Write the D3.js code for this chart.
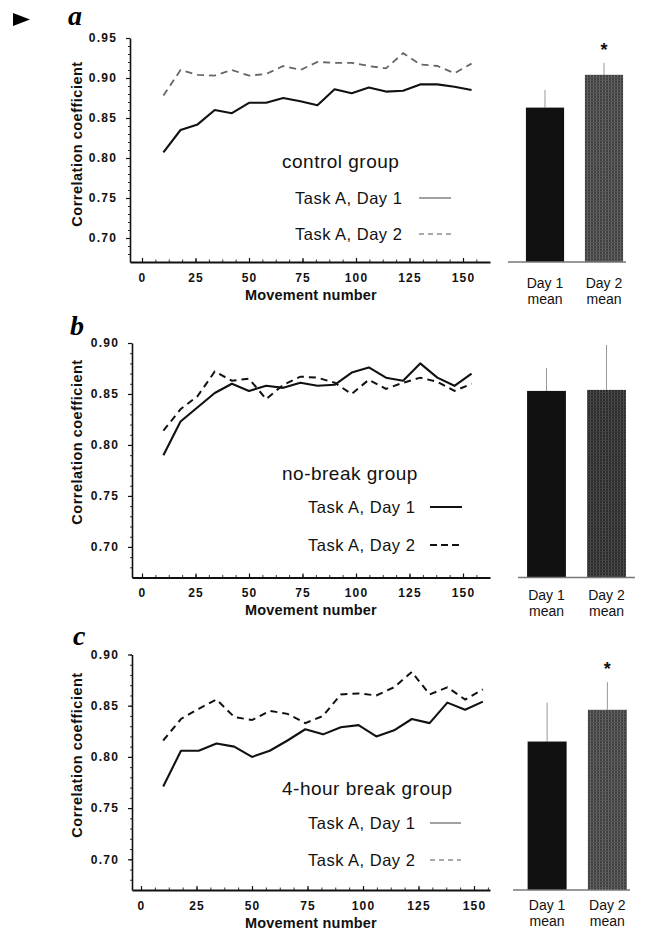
<!DOCTYPE html>
<html><head><meta charset="utf-8">
<script src="https://cdn.jsdelivr.net/npm/d3@7"></script>
<style>body{margin:0;background:#fff}svg{display:block}</style>
</head><body>
<svg id="chart" width="649" height="930"></svg>
<script>
// ---------- data ----------
const movements = [10,18,26,34,42,50,58,66,74,82,90,98,106,114,122,130,138,146,154];
const xTicks = [0,25,50,75,100,125,150];
const yTicksA = [0.70,0.75,0.80,0.85,0.90,0.95];
const yTicksBC = [0.70,0.75,0.80,0.85,0.90];

const day1A = [0.807,0.835,0.842,0.860,0.856,0.869,0.869,0.875,0.871,0.866,0.886,0.881,0.888,0.883,0.884,0.892,0.892,0.889,0.885];
const day2A = [0.878,0.910,0.904,0.903,0.910,0.903,0.905,0.915,0.910,0.920,0.919,0.919,0.915,0.912,0.931,0.917,0.915,0.906,0.918];
const day1B = [0.790,0.823,0.837,0.851,0.860,0.853,0.858,0.856,0.861,0.858,0.859,0.871,0.876,0.866,0.863,0.880,0.866,0.858,0.870];
const day2B = [0.814,0.835,0.848,0.872,0.863,0.865,0.845,0.859,0.867,0.866,0.861,0.850,0.864,0.855,0.861,0.866,0.862,0.853,0.860];
const day1C = [0.771,0.806,0.806,0.813,0.810,0.800,0.806,0.816,0.827,0.822,0.829,0.831,0.820,0.826,0.837,0.833,0.853,0.846,0.854];
const day2C = [0.816,0.837,0.847,0.856,0.839,0.836,0.845,0.842,0.833,0.840,0.861,0.862,0.860,0.868,0.883,0.861,0.868,0.856,0.866];

const barLabels = ["Day 1","Day 2"];
const meansA = [0.863,0.904], errA = [0.022,0.015], starsA = ["","*"];
const meansB = [0.853,0.854], errB = [0.0225,0.044], starsB = ["",""];
const meansC = [0.815,0.846], errC = [0.038,0.027], starsC = ["","*"];

const groups = ["control group","no-break group","4-hour break group"];
const legendLabels = ["Task A, Day 1","Task A, Day 2"];

// ---------- layout ----------
const svg = d3.select("#chart");
const SANS = "'Liberation Sans', Arial, Helvetica, sans-serif";
const SERIF = "'Liberation Serif', 'Times New Roman', serif";
const INK = "#111";

// patterns for Day 2 bars
const defs = svg.append("defs");
function grain(id, base, v, h) {
  const pat = defs.append("pattern").attr("id",id).attr("patternUnits","userSpaceOnUse")
    .attr("width",3).attr("height",3);
  pat.append("rect").attr("width",3).attr("height",3).attr("fill",base);
  pat.append("rect").attr("x",2).attr("width",1).attr("height",3).attr("fill",v);
  pat.append("rect").attr("y",2).attr("width",3).attr("height",1).attr("fill",h);
}
grain("grainLight","#404040","#6a6a6a","#555");
grain("grainDark","#2c2c2c","#505050","#3e3e3e");

// arrow marker
svg.append("path").attr("d","M13,13L13,26L30,19.5Z").attr("fill","#000");

const panels = [
  {letter:"a", lx:68, ly:25, left:130, axisY:262, top:38, yMax:0.95, yTicks:yTicksA,
   x0:142, x150:463, axisEnd:490, d1:day1A, d2:day2A, means:meansA, errs:errA, stars:starsA,
   group:groups[0], gx:282, gy:168, tx:295, t1:204, t2:240, lg1:419, lg2:451, thinLegend:true,
   d2color:"#666", d2width:1.8, ylabY:144, base1:508, base2:626, band:[516,633], bl1:288, bl2:304, mvY:300, grain:"grainLight"},
  {letter:"b", lx:70, ly:335, left:132, axisY:577.5, top:343, yMax:0.90, yTicks:yTicksBC,
   x0:142, x150:463, axisEnd:490, d1:day1B, d2:day2B, means:meansB, errs:errB, stars:starsB,
   group:groups[1], gx:282, gy:480, tx:308, t1:513, t2:551, lg1:430, lg2:462, thinLegend:false,
   d2color:"#111", d2width:2, ylabY:442, base1:518, base2:635, band:[517,636], bl1:600, bl2:616, mvY:615, grain:"grainDark"},
  {letter:"c", lx:73, ly:645, left:132, axisY:890, top:654.5, yMax:0.90, yTicks:yTicksBC,
   x0:141, x150:474, axisEnd:490, d1:day1C, d2:day2C, means:meansC, errs:errC, stars:starsC,
   group:groups[2], gx:282, gy:795, tx:308, t1:829, t2:866, lg1:430, lg2:461, thinLegend:true,
   d2color:"#111", d2width:2, ylabY:755, base1:513, base2:630, band:[517.5,637], bl1:910, bl2:926, mvY:928, grain:"grainLight"}
];

panels.forEach(p => {
  const g = svg.append("g");
  const xs = d3.scaleLinear().domain([0,150]).range([p.x0,p.x150]);
  const x = d3.scaleLinear().domain([xs.invert(p.left), xs.invert(p.axisEnd)]).range([p.left,p.axisEnd]);
  const y = d3.scaleLinear().domain([0.67,p.yMax]).range([p.axisY,p.top]);

  g.append("text").attr("x",p.lx).attr("y",p.ly).text(p.letter)
    .attr("font-family",SERIF).attr("font-style","italic").attr("font-weight","bold")
    .attr("font-size",28).attr("fill","#000");

  g.append("g").attr("transform",`translate(${p.left},0)`)
    .call(d3.axisLeft(y).tickValues(d3.range(0.68,p.yMax+0.0001,0.01)).tickSize(2).tickSizeOuter(0).tickFormat(""))
    .call(s=>s.select(".domain").remove())
    .call(s=>s.selectAll("line").attr("stroke","#333"));
  g.append("g").attr("transform",`translate(${p.left},0)`)
    .call(d3.axisLeft(y).tickValues(p.yTicks).tickSize(4).tickSizeOuter(0).tickPadding(9).tickFormat(d3.format(".2f")))
    .call(s=>{
      s.select(".domain").attr("stroke","#111").attr("stroke-width",1.6);
      s.selectAll(".tick line").attr("stroke","#111").attr("stroke-width",1.2);
      s.selectAll("text").attr("font-family",SANS).attr("font-weight","bold").attr("font-size",12)
        .attr("letter-spacing",1.2).attr("fill",INK);
    });
  g.append("g").attr("transform",`translate(0,${p.axisY})`)
    .call(d3.axisBottom(x).tickValues(d3.range(6.25,160,6.25)).tickSize(-2.5).tickSizeOuter(0).tickFormat(""))
    .call(s=>s.select(".domain").remove())
    .call(s=>s.selectAll("line").attr("stroke","#333"));
  g.append("g").attr("transform",`translate(0,${p.axisY})`)
    .call(d3.axisBottom(x).tickValues(xTicks).tickSize(-4).tickSizeOuter(0).tickPadding(11))
    .call(s=>{
      s.select(".domain").attr("stroke","#111").attr("stroke-width",1.8);
      s.selectAll(".tick line").attr("stroke","#111").attr("stroke-width",1.2);
      s.selectAll("text").attr("font-family",SANS).attr("font-weight","bold").attr("font-size",12)
        .attr("letter-spacing",1.2).attr("fill",INK);
    });

  g.append("text").attr("transform",`translate(77,${p.ylabY}) rotate(-90)`)
    .attr("text-anchor","middle").attr("dy","0.35em").text("Correlation coefficient")
    .attr("font-family",SANS).attr("font-weight","bold").attr("font-size",14.5)
    .attr("letter-spacing",0.5).attr("fill",INK);
  g.append("text").attr("x",245).attr("y",p.mvY).text("Movement number")
    .attr("font-family",SANS).attr("font-weight","bold").attr("font-size",14.5)
    .attr("letter-spacing",0.2).attr("fill",INK);

  const line = d3.line().x((d,i)=>x(movements[i])).y(d=>y(d));
  g.append("path").datum(p.d2).attr("d",line).attr("fill","none")
    .attr("stroke",p.d2color).attr("stroke-width",p.d2width).attr("stroke-dasharray","7,5");
  g.append("path").datum(p.d1).attr("d",line).attr("fill","none")
    .attr("stroke","#111").attr("stroke-width",2.1).attr("stroke-linejoin","round");

  g.append("text").attr("x",p.gx).attr("y",p.gy).text(p.group)
    .attr("font-family",SANS).attr("font-size",19).attr("letter-spacing",0.5).attr("fill",INK);
  [p.t1,p.t2].forEach((ty,i)=>{
    g.append("text").attr("x",p.tx).attr("y",ty).text(legendLabels[i])
      .attr("font-family",SANS).attr("font-size",16.5).attr("letter-spacing",0.5).attr("fill",INK);
    g.append("line").attr("x1",p.lg1).attr("x2",p.lg2).attr("y1",ty-6).attr("y2",ty-6)
      .attr("stroke",p.thinLegend?"#555":"#111").attr("stroke-width",p.thinLegend?1.1:2)
      .attr("stroke-dasharray",i===1?(p.thinLegend?"5,4":"7,4"):null);
  });

  const bx = d3.scaleBand().domain(barLabels).range(p.band).paddingInner(0.353).paddingOuter(0.168);
  const bars = g.append("g");
  bars.selectAll("line.err").data(barLabels).join("line").attr("class","err")
    .attr("x1",d=>bx(d)+bx.bandwidth()/2).attr("x2",d=>bx(d)+bx.bandwidth()/2)
    .attr("y1",(d,i)=>y(p.means[i])).attr("y2",(d,i)=>y(p.means[i]+p.errs[i]))
    .attr("stroke","#999").attr("stroke-width",1);
  bars.selectAll("rect").data(barLabels).join("rect")
    .attr("x",d=>bx(d)).attr("width",bx.bandwidth())
    .attr("y",(d,i)=>y(p.means[i])).attr("height",(d,i)=>y(0.67)-y(p.means[i]))
    .attr("fill",(d,i)=>i===0?"#111":`url(#${p.grain})`);
  bars.append("line").attr("x1",p.base1).attr("x2",p.base2).attr("y1",y(0.67)).attr("y2",y(0.67))
    .attr("stroke","#777").attr("stroke-width",1.3);
  bars.selectAll("text.star").data(barLabels).join("text").attr("class","star")
    .attr("x",d=>bx(d)+bx.bandwidth()/2).attr("y",(d,i)=>y(p.means[i]+p.errs[i])-7)
    .attr("text-anchor","middle").text((d,i)=>p.stars[i])
    .attr("font-family",SANS).attr("font-weight","bold").attr("font-size",18).attr("fill",INK);
  bars.selectAll("text.bl1").data(barLabels).join("text").attr("class","bl1")
    .attr("x",d=>bx(d)+bx.bandwidth()/2).attr("y",p.bl1).attr("text-anchor","middle").text(d=>d)
    .attr("font-family",SANS).attr("font-size",14).attr("fill",INK);
  bars.selectAll("text.bl2").data(barLabels).join("text").attr("class","bl2")
    .attr("x",d=>bx(d)+bx.bandwidth()/2).attr("y",p.bl2).attr("text-anchor","middle").text("mean")
    .attr("font-family",SANS).attr("font-size",14).attr("fill",INK);
});
</script>
</body></html>
